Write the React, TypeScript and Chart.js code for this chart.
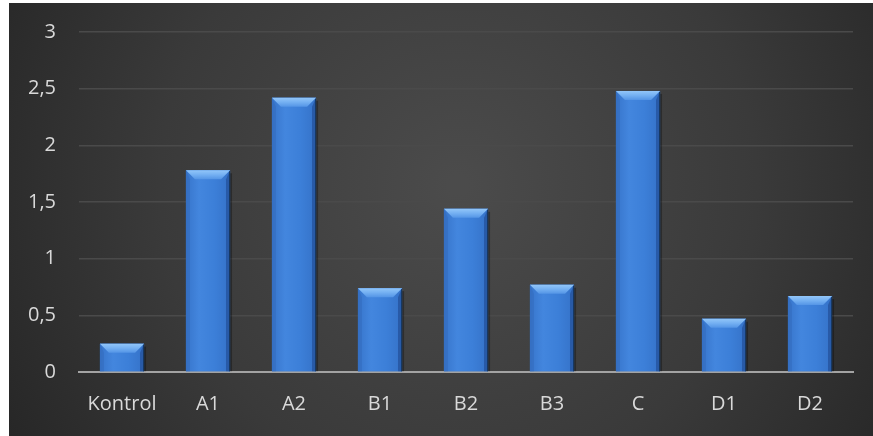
import React, { useEffect, useRef } from "react";
import { Chart, registerables } from "chart.js";

Chart.register(...registerables);

const categories = ["Kontrol", "A1", "A2", "B1", "B2", "B3", "C", "D1", "D2"];
const values = [0.25, 1.78, 2.42, 0.74, 1.44, 0.77, 2.48, 0.47, 0.67];
const yTickLabels = ["0", "0,5", "1", "1,5", "2", "2,5", "3"];

const FONT = "'Open Sans', 'Noto Sans', sans-serif";

// Dark radial backdrop behind the whole chart
const backdrop = {
  id: "backdrop",
  beforeDraw(chart: any) {
    const { ctx, width, height } = chart;
    ctx.save();
    const g = ctx.createRadialGradient(width * 0.52, height * 0.42, 10, width * 0.52, height * 0.42, width * 0.62);
    g.addColorStop(0, "#4b4b4b");
    g.addColorStop(0.55, "#3a3a3a");
    g.addColorStop(1, "#252525");
    ctx.fillStyle = g;
    ctx.fillRect(0, 0, width, height);
    ctx.restore();
  },
};

// Beveled, shaded look for each bar
const bevelBars = {
  id: "bevelBars",
  afterDatasetsDraw(chart: any) {
    const { ctx } = chart;
    const meta = chart.getDatasetMeta(0);
    ctx.save();
    meta.data.forEach((bar: any) => {
      const { x, y, width, base } = bar.getProps(["x", "y", "width", "base"], true);
      const l = x - width / 2;
      const r = x + width / 2;
      const t = y;
      const btm = base;
      const b = Math.min(9, (btm - t) / 2);

      // soft shadow on the right
      ctx.fillStyle = "rgba(0,0,0,0.3)";
      ctx.fillRect(r, t + 3, 2, btm - t - 3);

      // body
      const body = ctx.createLinearGradient(l, 0, r, 0);
      body.addColorStop(0, "#3775cb");
      body.addColorStop(0.3, "#4386de");
      body.addColorStop(0.65, "#3c7fd8");
      body.addColorStop(1, "#3572c8");
      ctx.fillStyle = body;
      ctx.fillRect(l, t, width, btm - t);

      // top bevel
      const top = ctx.createLinearGradient(0, t, 0, t + b);
      top.addColorStop(0, "#92c6f9");
      top.addColorStop(0.5, "#74b0f2");
      top.addColorStop(1, "#5495e6");
      ctx.fillStyle = top;
      ctx.beginPath();
      ctx.moveTo(l, t);
      ctx.lineTo(r, t);
      ctx.lineTo(r - b, t + b);
      ctx.lineTo(l + b, t + b);
      ctx.closePath();
      ctx.fill();

      // left bevel
      ctx.fillStyle = "rgba(50,105,185,0.45)";
      ctx.beginPath();
      ctx.moveTo(l, t);
      ctx.lineTo(l + b * 0.45, t + b);
      ctx.lineTo(l + b * 0.45, btm);
      ctx.lineTo(l, btm);
      ctx.closePath();
      ctx.fill();

      // right bevel
      ctx.fillStyle = "rgba(25,60,125,0.45)";
      ctx.beginPath();
      ctx.moveTo(r, t);
      ctx.lineTo(r - b * 0.45, t + b);
      ctx.lineTo(r - b * 0.45, btm);
      ctx.lineTo(r, btm);
      ctx.closePath();
      ctx.fill();

      // dark right edge
      ctx.fillStyle = "#17365f";
      ctx.fillRect(r - 1, t + 1, 1, btm - t - 1);
    });
    ctx.restore();
  },
};

export default function App() {
  const canvasRef = useRef<HTMLCanvasElement | null>(null);

  useEffect(() => {
    if (!canvasRef.current) return;
    const chart = new Chart(canvasRef.current, {
      type: "bar",
      data: {
        labels: categories,
        datasets: [
          {
            data: values,
            backgroundColor: "#3b7ed7",
            borderWidth: 0,
            categoryPercentage: 1,
            barPercentage: 0.513,
          },
        ],
      },
      options: {
        animation: false,
        responsive: false,
        layout: { padding: { top: 29, right: 20, bottom: 0, left: 0 } },
        plugins: { legend: { display: false }, tooltip: { enabled: false } },
        scales: {
          x: {
            grid: { display: false, drawTicks: false },
            border: { display: true, color: "#a3a3a3", width: 2 },
            ticks: {
              color: "#d9d9d9",
              font: { family: FONT, size: 20 },
              padding: 20,
            },
            afterFit(scale: any) {
              scale.height = 64;
              scale.paddingLeft = 0;
              scale.paddingRight = 0;
            },
          },
          y: {
            min: 0,
            max: 3,
            grid: { color: "#4a4a4a", lineWidth: 1.5, drawTicks: false },
            border: { display: false },
            ticks: {
              stepSize: 0.5,
              color: "#d9d9d9",
              font: { family: FONT, size: 20 },
              padding: 23,
              callback: (_v: any, i: number) => yTickLabels[i],
            },
            afterFit(scale: any) {
              scale.width = 70;
              scale.paddingTop = 0;
              scale.paddingBottom = 0;
            },
          },
        },
      },
      plugins: [backdrop, bevelBars],
    });
    return () => chart.destroy();
  }, []);

  return (
    <div style={{ position: "fixed", left: 9, top: 3, width: 864, height: 433 }}>
      <canvas ref={canvasRef} width={864} height={433} style={{ display: "block" }} />
    </div>
  );
}
